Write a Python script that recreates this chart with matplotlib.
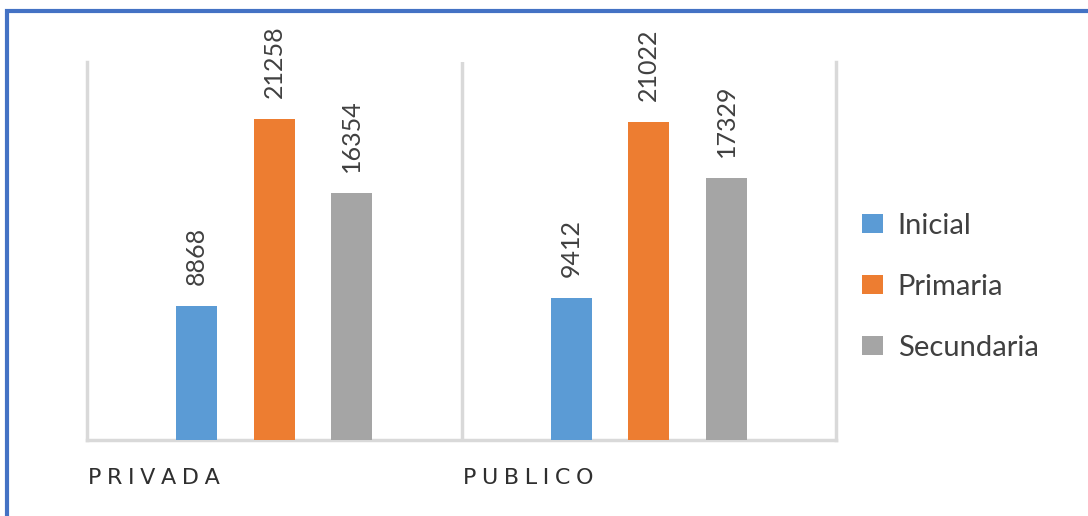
import numpy as np
import matplotlib.pyplot as plt
from matplotlib.patches import Rectangle

# data
categories = ["PRIVADA", "PUBLICO"]
series = ["Inicial", "Primaria", "Secundaria"]
inicial = [8868, 9412]
primaria = [21258, 21022]
secundaria = [16354, 17329]
colors = ["#5B9BD5", "#ED7D31", "#A5A5A5"]

plt.rcParams['font.family'] = ['Lato', 'DejaVu Sans']

fig = plt.figure(figsize=(10.88, 5.16), dpi=100)
ax = fig.add_axes([87/1088, 1 - 440/516, (836-87)/1088, (440-62)/516])

x = np.arange(len(categories))
width = 0.109
step = 0.207
values = [inicial, primaria, secundaria]
for i, (name, vals) in enumerate(zip(series, values)):
    pos = x + (i - 1) * step
    bars = ax.bar(pos, vals, width, color=colors[i], label=name, zorder=3)
    for b, v in zip(bars, vals):
        ax.annotate(str(v), (b.get_x() + b.get_width()/2, v), xytext=(0, 15),
                    textcoords="offset points", rotation=90, ha="center",
                    va="bottom", fontsize=18, color="#404040")

ax.set_xlim(-0.5, 1.5)
ax.set_ylim(0, 25000)
ax.set_xticks([])
ax.set_yticks([])
ax.spines["top"].set_visible(False)
for s in ["left", "right", "bottom"]:
    ax.spines[s].set_color("#D9D9D9")
    ax.spines[s].set_linewidth(2.5)
ax.axvline(0.5, color="#D9D9D9", lw=2.5, zorder=1)

# category labels, letter spaced
for i, c in enumerate(categories):
    ax.text(i - 0.497, -0.10, "\u2005".join(c), transform=ax.get_xaxis_transform(),
            ha="left", va="center", fontsize=16, color="#2F2F2F",
            family=["DejaVu Sans"])

leg = ax.legend(loc="center left", bbox_to_anchor=(1.035, 0.405), frameon=False,
                fontsize=21, handlelength=0.72, handleheight=0.65, labelspacing=1.2,
                handletextpad=0.5, borderpad=0, borderaxespad=0, labelcolor="#404040")

# outer frame (only left/top visible)
fig.add_artist(Rectangle((7/1088, -0.2), 1.2, 1 - 11/516 + 0.2, transform=fig.transFigure,
                         fill=False, edgecolor="#4472C4", lw=3))

fig.savefig("out.png", dpi=100)
